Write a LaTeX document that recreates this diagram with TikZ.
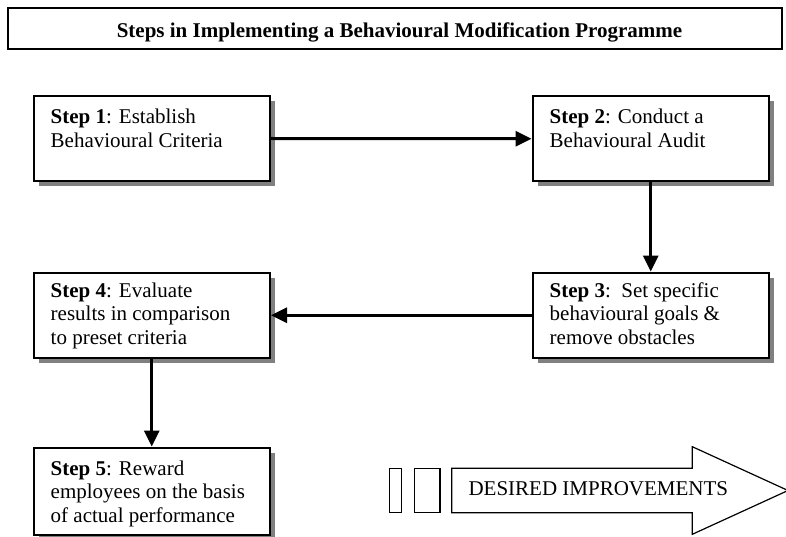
\documentclass[tikz,border=0pt]{standalone}
\usepackage{fontspec}
\setmainfont{Liberation Serif}
\usetikzlibrary{arrows.meta,shadows,calc}

\tikzset{
  stepbox/.style={draw=black, line width=2pt, fill=white, inner sep=0pt,
    minimum width=236.5pt, minimum height=85.5pt,
    drop shadow={shadow xshift=5pt, shadow yshift=-5pt, fill=black!50, opacity=1}},
  % anchored on the baseline of the last line
  steptext/.style={anchor=base west, inner sep=0pt, align=left,
    font=\fontsize{21}{23.4}\selectfont},
  conn/.style={line width=3pt, -{Triangle[length=16pt,width=15pt]}},
  outline/.style={draw=black, line width=1.2pt},
}

\begin{document}
\begin{tikzpicture}[x=1pt,y=-1pt]
  \useasboundingbox (0,0) rectangle (786,537);

  % title banner
  \node[draw=black, line width=2pt, inner sep=0pt, minimum width=774pt,
        minimum height=41.5pt] (title) at (395,28.75) {};
  \node[anchor=base, inner sep=0pt, font=\fontsize{21}{24}\selectfont\bfseries]
        (titletext) at (399.5,37.7)
        {Steps in Implementing a Behavioural Modification Programme};

  % the five steps
  \node[stepbox] (s1) at (151.75,138.5) {};
  \node[stepbox] (s2) at (650.75,138.75) {};
  \node[stepbox] (s3) at (650.75,315.25) {};
  \node[stepbox] (s4) at (151.75,315.25) {};
  \node[stepbox, minimum height=87.5pt] (s5) at (151.75,491.25) {};

  \node[steptext] (t1) at ($(s1.north west)+(18,52.4)$)
    {\textbf{Step 1}: Establish\\Behavioural Criteria};
  \node[steptext] (t2) at ($(s2.north west)+(18,52.4)$)
    {\textbf{Step 2}: Conduct a\\Behavioural Audit};
  \node[steptext] (t3) at ($(s3.north west)+(18,72.8)$)
    {\textbf{Step 3}:\ \ Set specific\\behavioural goals \&\\remove obstacles};
  \node[steptext] (t4) at ($(s4.north west)+(18,72.8)$)
    {\textbf{Step 4}: Evaluate\\results in comparison\\to preset criteria};
  \node[steptext] (t5) at ($(s5.north west)+(18,75.8)$)
    {\textbf{Step 5}: Reward\\employees on the basis\\of actual performance};

  % flow between the steps
  \draw[conn] (s1.east) -- (s2.west);
  \draw[conn] (s2.south) -- (s3.north);
  \draw[conn] (s3.west) -- (s4.east);
  \draw[conn] (s4.south) -- (s5.north);

  % improvement arrow
  \draw[outline] (389.3,468.3) rectangle (401.7,512.7);
  \draw[outline] (414.3,468.3) rectangle (440,512.7);
  \draw[outline, line join=miter]
    (451.7,468.3) -- (692.3,468.3) -- (692.3,446.7) -- (788,490.5)
    -- (692.3,534.3) -- (692.3,512.7) -- (451.7,512.7) -- cycle;
  \node[anchor=base west, inner sep=0pt, font=\fontsize{21}{24}\selectfont]
    (improve) at (468.3,495) {DESIRED IMPROVEMENTS};
\end{tikzpicture}
\end{document}
